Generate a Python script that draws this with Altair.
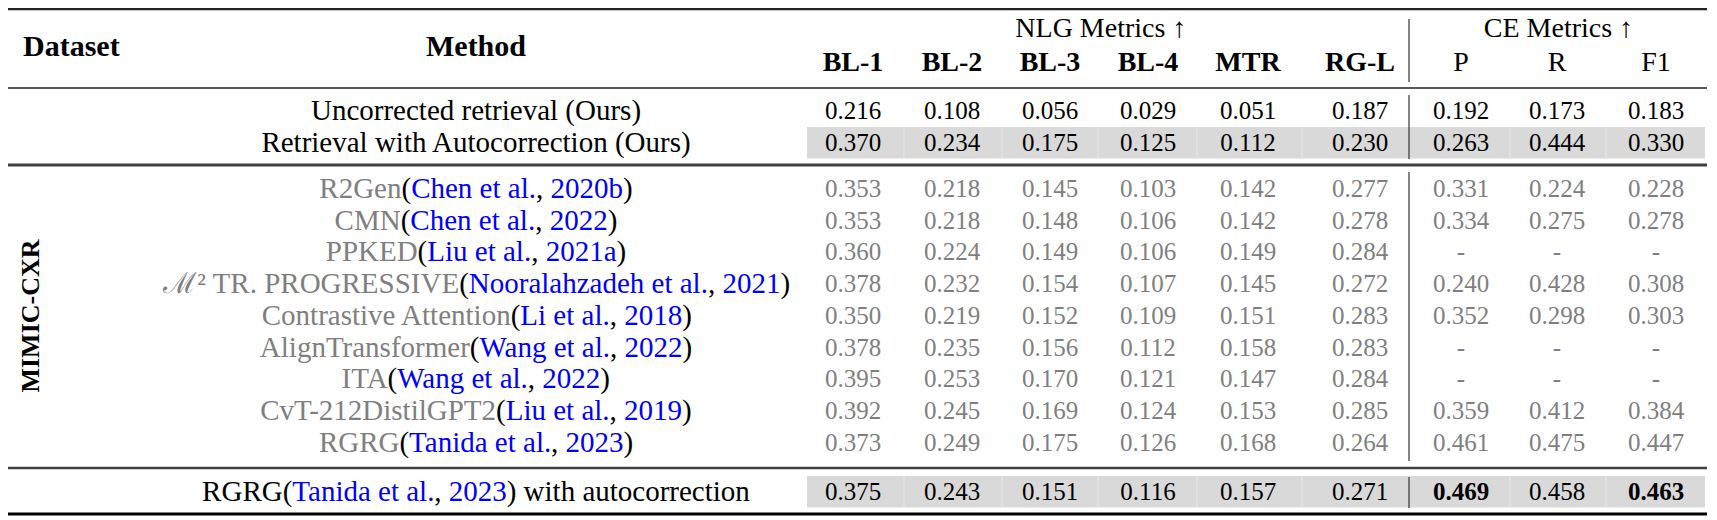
import altair as alt
import pandas as pd

# ---------------- data ----------------
NLG_COLS = ["BL-1", "BL-2", "BL-3", "BL-4", "MTR", "RG-L"]
CE_COLS = ["P", "R", "F1"]
NLG_TITLE = "NLG Metrics ↑"
CE_TITLE = "CE Metrics ↑"
DATASET = "MIMIC-CXR"

OURS_NAMES = ["Uncorrected retrieval (Ours)", "Retrieval with Autocorrection (Ours)"]
OURS_SCORES = [
    [0.216, 0.108, 0.056, 0.029, 0.051, 0.187, 0.192, 0.173, 0.183],
    [0.370, 0.234, 0.175, 0.125, 0.112, 0.230, 0.263, 0.444, 0.330],
]

BASE_NAMES = ["R2Gen", "CMN", "PPKED", "ℳ² TR. PROGRESSIVE", "Contrastive Attention",
              "AlignTransformer", "ITA", "CvT-212DistilGPT2", "RGRG"]
BASE_AUTHORS = ["Chen et al.", "Chen et al.", "Liu et al.", "Nooralahzadeh et al.", "Li et al.",
                "Wang et al.", "Wang et al.", "Liu et al.", "Tanida et al."]
BASE_YEARS = ["2020b", "2022", "2021a", "2021", "2018", "2022", "2022", "2019", "2023"]
BASE_SCORES = [
    [0.353, 0.218, 0.145, 0.103, 0.142, 0.277, 0.331, 0.224, 0.228],
    [0.353, 0.218, 0.148, 0.106, 0.142, 0.278, 0.334, 0.275, 0.278],
    [0.360, 0.224, 0.149, 0.106, 0.149, 0.284, None, None, None],
    [0.378, 0.232, 0.154, 0.107, 0.145, 0.272, 0.240, 0.428, 0.308],
    [0.350, 0.219, 0.152, 0.109, 0.151, 0.283, 0.352, 0.298, 0.303],
    [0.378, 0.235, 0.156, 0.112, 0.158, 0.283, None, None, None],
    [0.395, 0.253, 0.170, 0.121, 0.147, 0.284, None, None, None],
    [0.392, 0.245, 0.169, 0.124, 0.153, 0.285, 0.359, 0.412, 0.384],
    [0.373, 0.249, 0.175, 0.126, 0.168, 0.264, 0.461, 0.475, 0.447],
]

FINAL_NAME = "RGRG"
FINAL_AUTHOR = "Tanida et al."
FINAL_YEAR = "2023"
FINAL_SUFFIX = " with autocorrection"
FINAL_SCORES = [0.375, 0.243, 0.151, 0.116, 0.157, 0.271, 0.469, 0.458, 0.463]
FINAL_BOLD = [False, False, False, False, False, False, True, False, True]

# ---------------- layout / style ----------------
FONT = "Liberation Serif"
BLACK, GRAY, BLUE = "#000000", "#7f7f7f", "#0000ff"
BAND = "#d9d9d9"
NUM_SIZE = 25
TXT_SIZE = 29
HEAD_SIZE = 28
COL_X = [853, 952, 1050, 1148, 1248, 1360, 1461, 1557, 1656]
METHOD_X = 476
SEP_X = 1409
LEFT, RIGHT = 7, 1707
Y_GROUP, Y_HEAD, Y_HEAD_MID = 29, 63, 47
Y_OURS = [111, 142.5]
Y_BASE0, Y_STEP = 189, 31.7
Y_FINAL = 492

# Times / Liberation Serif advance widths (per 1000 em)
W = {' ': 250, '(': 333, ')': 333, ',': 250, '-': 333, '.': 250, '²': 300, 'ℳ': 1200,
     'A': 722, 'B': 667, 'C': 667, 'D': 722, 'E': 611, 'F': 556, 'G': 722, 'H': 722, 'I': 333,
     'J': 389, 'K': 722, 'L': 611, 'M': 889, 'N': 722, 'O': 722, 'P': 556, 'Q': 722, 'R': 667,
     'S': 556, 'T': 611, 'U': 722, 'V': 722, 'W': 944, 'X': 722, 'Y': 722, 'Z': 611,
     'a': 444, 'b': 500, 'c': 444, 'd': 500, 'e': 444, 'f': 333, 'g': 500, 'h': 500, 'i': 278,
     'j': 278, 'k': 500, 'l': 278, 'm': 778, 'n': 500, 'o': 500, 'p': 500, 'q': 500, 'r': 333,
     's': 389, 't': 278, 'u': 500, 'v': 500, 'w': 722, 'x': 500, 'y': 500, 'z': 444}
KERN = {('T', 'A'): -93, ('A', 'T'): -111, ('T', '-'): -92, ('T', 'r'): -35,
        ('T', 'a'): -80, ('W', 'a'): -80}


def tw(s, size):
    w = sum(W.get(c, 500) for c in s)
    w += sum(KERN.get((a, b), 0) for a, b in zip(s, s[1:]))
    return w / 1000.0 * size


reg_c, reg_l, reg_r, bold_c, bold_l = [], [], [], [], []


def seg_row(segs, y):
    total = sum(tw(t, TXT_SIZE) for t, _ in segs)
    x = METHOD_X - total / 2
    for k, (t, c) in enumerate(segs):
        w = tw(t, TXT_SIZE)
        if k == 0:
            # anchor the first segment on its right end so it meets "(" exactly
            reg_r.append(dict(x=x + w, y=y, text=t, color=c, size=TXT_SIZE))
        else:
            stripped = t.lstrip(" ")
            lead = tw(t[: len(t) - len(stripped)], TXT_SIZE)
            reg_l.append(dict(x=x + lead, y=y, text=stripped, color=c, size=TXT_SIZE))
        x += w


def num_row(vals, y, color, bold=None):
    for i, v in enumerate(vals):
        txt = "-" if v is None else f"{v:.3f}"
        rec = dict(x=COL_X[i], y=y, text=txt, color=color, size=NUM_SIZE)
        (bold_c if (bold and bold[i]) else reg_c).append(rec)


# headers
bold_l.append(dict(x=23, y=Y_HEAD_MID, text="Dataset", color=BLACK, size=30))
bold_c.append(dict(x=METHOD_X, y=Y_HEAD_MID, text="Method", color=BLACK, size=30))
reg_c.append(dict(x=sum(COL_X[:6]) / 6 - 1, y=Y_GROUP, text=NLG_TITLE, color=BLACK, size=HEAD_SIZE))
reg_c.append(dict(x=(COL_X[6] + COL_X[8]) / 2, y=Y_GROUP, text=CE_TITLE, color=BLACK, size=HEAD_SIZE))
for i, c in enumerate(NLG_COLS):
    bold_c.append(dict(x=COL_X[i], y=Y_HEAD, text=c, color=BLACK, size=HEAD_SIZE))
for i, c in enumerate(CE_COLS):
    reg_c.append(dict(x=COL_X[6 + i], y=Y_HEAD, text=c, color=BLACK, size=HEAD_SIZE))

# our rows
for name, vals, y in zip(OURS_NAMES, OURS_SCORES, Y_OURS):
    reg_c.append(dict(x=METHOD_X, y=y, text=name, color=BLACK, size=TXT_SIZE))
    num_row(vals, y, BLACK)

# baselines
for k, (n, a, yr, vals) in enumerate(zip(BASE_NAMES, BASE_AUTHORS, BASE_YEARS, BASE_SCORES)):
    y = Y_BASE0 + k * Y_STEP
    seg_row([(n, GRAY), ("(", BLACK), (a, BLUE), (", ", BLACK), (yr, BLUE), (")", BLACK)], y)
    num_row(vals, y, GRAY)

# final row
seg_row([(FINAL_NAME, BLACK), ("(", BLACK), (FINAL_AUTHOR, BLUE), (", ", BLACK),
         (FINAL_YEAR, BLUE), (")", BLACK), (FINAL_SUFFIX, BLACK)], Y_FINAL)
num_row(FINAL_SCORES, Y_FINAL, BLACK, FINAL_BOLD)

rot = [dict(x=31, y=316, text=DATASET, color=BLACK, size=26)]

hrules = pd.DataFrame([
    dict(x=LEFT, x2=RIGHT, y=9, w=2.5, color="#222222"),
    dict(x=LEFT, x2=RIGHT, y=88, w=1.5, color="#222222"),
    dict(x=LEFT, x2=RIGHT, y=165, w=3, color="#404040"),
    dict(x=LEFT, x2=RIGHT, y=468, w=2.5, color="#404040"),
    dict(x=LEFT, x2=RIGHT, y=514, w=3, color="#000000"),
])
vrules = pd.DataFrame([
    dict(x=SEP_X, y=19, y2=82), dict(x=SEP_X, y=95, y2=159),
    dict(x=SEP_X, y=172, y2=461), dict(x=SEP_X, y=477, y2=508),
])
bands = pd.DataFrame([
    dict(x=807, x2=1705, y=127, y2=158.5),
    dict(x=807, x2=1705, y=476, y2=507.5),
])
faint_x = [904, 1002, 1098, 1197, 1302, 1510, 1606]
faint = pd.DataFrame([dict(x=fx, y=b["y"], y2=b["y2"]) for b in bands.to_dict("records") for fx in faint_x])

XS = alt.Scale(domain=[8, 1709], range=[0, 1701], nice=False, zero=False)
YS = alt.Scale(domain=[8, 520], range=[0, 512], nice=False, zero=False)


def tlayer(rows, weight, align, angle=0):
    return alt.Chart(pd.DataFrame(rows)).mark_text(
        font=FONT, fontWeight=weight, align=align, baseline="middle", angle=angle
    ).encode(
        x=alt.X("x:Q", scale=XS, axis=None),
        y=alt.Y("y:Q", scale=YS, axis=None),
        text="text:N",
        color=alt.Color("color:N", scale=None),
        size=alt.Size("size:Q", scale=None),
    )


band_l = alt.Chart(bands).mark_rect(color=BAND).encode(
    x=alt.X("x:Q", scale=XS, axis=None), x2="x2:Q",
    y=alt.Y("y:Q", scale=YS, axis=None), y2="y2:Q")
faint_l = alt.Chart(faint).mark_rule(color="#e6e6e6", strokeWidth=1).encode(
    x=alt.X("x:Q", scale=XS, axis=None),
    y=alt.Y("y:Q", scale=YS, axis=None), y2="y2:Q")
h_l = alt.Chart(hrules).mark_rule().encode(
    x=alt.X("x:Q", scale=XS, axis=None), x2="x2:Q",
    y=alt.Y("y:Q", scale=YS, axis=None),
    strokeWidth=alt.StrokeWidth("w:Q", scale=None),
    color=alt.Color("color:N", scale=None))
v_l = alt.Chart(vrules).mark_rule(color="#333333", strokeWidth=1.2).encode(
    x=alt.X("x:Q", scale=XS, axis=None),
    y=alt.Y("y:Q", scale=YS, axis=None), y2="y2:Q")

chart = alt.layer(
    band_l, faint_l, h_l, v_l,
    tlayer(reg_c, "normal", "center"),
    tlayer(reg_l, "normal", "left"),
    tlayer(reg_r, "normal", "right"),
    tlayer(bold_c, "bold", "center"),
    tlayer(bold_l, "bold", "left"),
    tlayer(rot, "bold", "center", angle=270),
).properties(
    width=1701, height=512,
    autosize=alt.AutoSizeParams(type="none"),
    padding=0,
    background="white",
).configure_view(stroke=None)

chart.save("out.html", embed_options={"renderer": "svg", "actions": False})
